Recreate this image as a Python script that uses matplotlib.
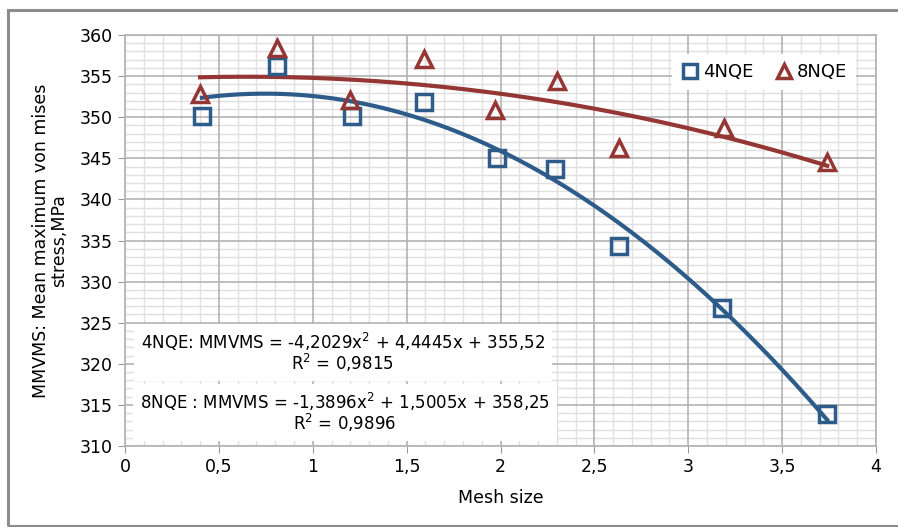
import matplotlib
matplotlib.use('Agg')
import matplotlib.pyplot as plt
import numpy as np
from matplotlib.patches import Rectangle
from matplotlib.ticker import MultipleLocator, FuncFormatter

# Mesh size and mean max von Mises stress
mesh_4nqe = [0.41, 0.81, 1.21, 1.59, 1.98, 2.29, 2.63, 3.18, 3.74]
stress_4nqe = [350.2, 356.2, 350.2, 351.9, 345.0, 343.7, 334.3, 326.8, 313.9]
mesh_8nqe = [0.40, 0.81, 1.20, 1.59, 1.97, 2.30, 2.63, 3.19, 3.74]
stress_8nqe = [352.8, 358.4, 352.1, 357.1, 350.9, 354.4, 346.3, 348.7, 344.5]

eq_4nqe = '4NQE: MMVMS = -4,2029x$^2$ + 4,4445x + 355,52\nR$^2$ = 0,9815'
eq_8nqe = '8NQE : MMVMS = -1,3896x$^2$ + 1,5005x + 358,25\nR$^2$ = 0,9896'

blue = '#2E5C8A'
red = '#943634'

plt.rcParams['font.family'] = ['DejaVu Sans']
plt.rcParams['mathtext.default'] = 'regular'

fig = plt.figure(figsize=(8.98, 5.27), dpi=100)
ax = fig.add_axes([125/898, 1-446/527, 751/898, 411/527])

# outer frame of the chart area (right side runs off the image)
fig.patches.append(Rectangle((8/898, 1.5/527), 1.0, 515.5/527, transform=fig.transFigure,
                             fill=False, edgecolor='#8c8c8c', linewidth=2.2))

ax.set_xlim(0, 4)
ax.set_ylim(310, 360)
ax.xaxis.set_major_locator(MultipleLocator(0.5))
ax.xaxis.set_minor_locator(MultipleLocator(0.1))
ax.yaxis.set_major_locator(MultipleLocator(5))
ax.yaxis.set_minor_locator(MultipleLocator(1))
ax.grid(which='minor', color='#e0e0e0', linewidth=1.0)
ax.set_axisbelow(True)
# major grid on top of the minor one
for v in ax.get_xticks():
    ax.axvline(v, color='#b3b3b3', linewidth=1.2, zorder=1)
for v in ax.get_yticks():
    ax.axhline(v, color='#b3b3b3', linewidth=1.2, zorder=1)

comma = FuncFormatter(lambda v, p: ('%g' % v).replace('.', ','))
ax.xaxis.set_major_formatter(comma)
ax.tick_params(which='major', length=5, color='#999999', labelsize=12.5, pad=4)
ax.tick_params(which='minor', length=0)
for s in ax.spines.values():
    s.set_color('#b3b3b3')
    s.set_linewidth(1.2)

# polynomial trendlines (order 2), fitted to the points
for xs, ys, c in [(mesh_4nqe, stress_4nqe, blue), (mesh_8nqe, stress_8nqe, red)]:
    coef = np.polyfit(xs, ys, 2)
    xx = np.linspace(min(xs), max(xs), 200)
    ax.plot(xx, np.polyval(coef, xx), color=c, linewidth=3, zorder=3)

ax.plot(mesh_4nqe, stress_4nqe, 's', markersize=12, markerfacecolor='none',
        markeredgecolor=blue, markeredgewidth=2.5, label='4NQE', zorder=4)
ax.plot(mesh_8nqe, stress_8nqe, '^', markersize=12, markerfacecolor='none',
        markeredgecolor=red, markeredgewidth=2.5, label='8NQE', zorder=4)

leg = ax.legend(loc='upper right', ncol=2, frameon=True, fontsize=13,
                handlelength=1.0, handletextpad=0.2, columnspacing=1.2,
                bbox_to_anchor=(0.985, 0.975), fancybox=False, borderpad=0.5,
                markerscale=0.85)
leg.get_frame().set_edgecolor('none')
leg.get_frame().set_facecolor('white')
leg.get_frame().set_alpha(1)

box = dict(facecolor='white', edgecolor='none', pad=5)
ax.text(1.16, 321.4, eq_4nqe, ha='center', va='center', fontsize=12,
        linespacing=0.95, bbox=box, zorder=5)
ax.text(1.17, 314.1, eq_8nqe, ha='center', va='center', fontsize=12,
        linespacing=0.95, bbox=box, zorder=5)

ax.set_xlabel('Mesh size', fontsize=12.5, labelpad=9)
ax.set_ylabel('MMVMS: Mean maximum von mises\nstress,MPa', fontsize=12.5,
              labelpad=8, linespacing=1.0)

fig.savefig('out.png', dpi=100)
